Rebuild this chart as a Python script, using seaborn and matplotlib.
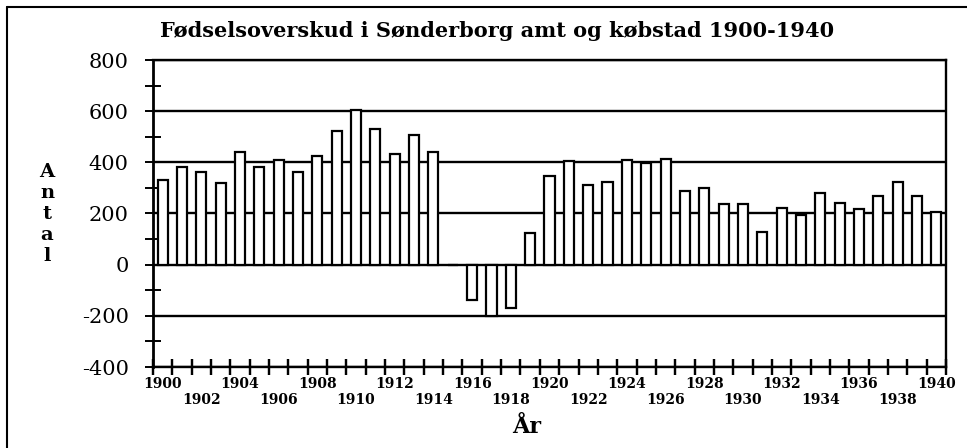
import matplotlib
matplotlib.use("Agg")
import matplotlib.pyplot as plt
import matplotlib.transforms as mtransforms
import seaborn as sns
import pandas as pd
import numpy as np
from matplotlib.lines import Line2D
from matplotlib.ticker import MultipleLocator, NullFormatter

# ---- data ----
years = list(range(1900, 1941))
surplus = [329, 383, 364, 320, 442, 383, 408, 364, 425, 522,
           604, 530, 433, 507, 442, 0, -138, -200, -168, 122,
           345, 404, 312, 322, 411, 397, 414, 289, 300, 237,
           237, 128, 220, 193, 280, 241, 217, 270, 322, 270, 204]
title = "Fødselsoverskud i Sønderborg amt og købstad 1900-1940"
x_label = "År"
y_label = "Antal"
y_ticks = [-400, -200, 0, 200, 400, 600, 800]

sns.set_theme(style="ticks")
plt.rcParams["font.family"] = ["DejaVu Serif"]
plt.rcParams["text.color"] = "black"
plt.rcParams["xtick.color"] = "black"
plt.rcParams["ytick.color"] = "black"
plt.rcParams["axes.labelcolor"] = "black"

W, H = 967, 448
fig = plt.figure(figsize=(W / 100, H / 100), dpi=100)
fig.patch.set_facecolor("white")
ax = fig.add_axes([153 / W, 1 - 367 / H, (946 - 153) / W, (367 - 60) / H])
ax.set_facecolor("white")

df = pd.DataFrame({"year": [str(y) for y in years], "value": surplus})

for yv in y_ticks:
    ax.axhline(yv, color="black", lw=1.7, zorder=1)

sns.barplot(data=df, x="year", y="value", color="white", saturation=1,
            edgecolor="black", linewidth=1.6, width=0.52, ax=ax, zorder=3)

ax.set_xlim(-0.5, len(years) - 0.5)
ax.set_ylim(y_ticks[0], y_ticks[-1])

# x: tick marks at category boundaries (major), labels on even years (minor), two rows
boundaries = list(np.arange(-0.5, len(years), 1))
major_pos = list(range(0, len(years), 2))
labels = []
for k, i in enumerate(major_pos):
    lab = str(years[i])
    labels.append(lab if k % 2 == 0 else "\n" + lab)
ax.set_xticks(boundaries)
ax.xaxis.set_major_formatter(NullFormatter())
ax.set_xticks(major_pos, labels, minor=True)
ax.tick_params(axis="x", which="major", direction="inout", length=12, width=1.6,
               color="black", bottom=True, top=False, labelbottom=False)
ax.tick_params(axis="x", which="minor", length=0, pad=7, labelsize=10,
               labelcolor="black", bottom=True, labelbottom=True)
for lbl in ax.get_xticklabels(minor=True):
    lbl.set_fontweight("bold")
    lbl.set_linespacing(1.2)

# explicit boundary tick marks crossing the bottom spine
trans = mtransforms.blended_transform_factory(ax.transData, ax.transAxes)
ax.vlines(boundaries, -0.025, 0.025, colors="black", linewidth=1.6,
          transform=trans, clip_on=False, zorder=10)

ax.set_yticks(y_ticks)
ax.set_yticklabels([str(v) for v in y_ticks])
ax.yaxis.set_minor_locator(MultipleLocator(100))
ax.tick_params(axis="y", which="both", direction="inout", length=11, width=1.4,
               color="black", left=True, right=False)
ax.tick_params(axis="y", which="major", labelsize=15, pad=12, labelcolor="black")

for s in ax.spines.values():
    s.set_visible(True)
    s.set_color("black")
    s.set_linewidth(1.7)
ax.spines["left"].set_linewidth(2)

ax.set_xlabel("")
ax.set_ylabel("")

fig.text(497 / W, 1 - 31 / H, title, ha="center", va="center",
         fontsize=15, fontweight="bold", color="black")
fig.text(527 / W, 1 - 427 / H, x_label, ha="center", va="center",
         fontsize=16, fontweight="bold", color="black")
fig.text(47 / W, 1 - 214 / H, "\n".join(list(y_label)), ha="center", va="center",
         fontsize=14, fontweight="bold", linespacing=1.2, multialignment="center",
         color="black")

# outer frame (top and left edges)
fig.add_artist(Line2D([7 / W, 1], [1 - 7 / H, 1 - 7 / H], transform=fig.transFigure,
                      color="black", lw=1.5))
fig.add_artist(Line2D([7 / W, 7 / W], [0, 1 - 7 / H], transform=fig.transFigure,
                      color="black", lw=1.5))

fig.savefig("out.png", dpi=100, facecolor="white")
